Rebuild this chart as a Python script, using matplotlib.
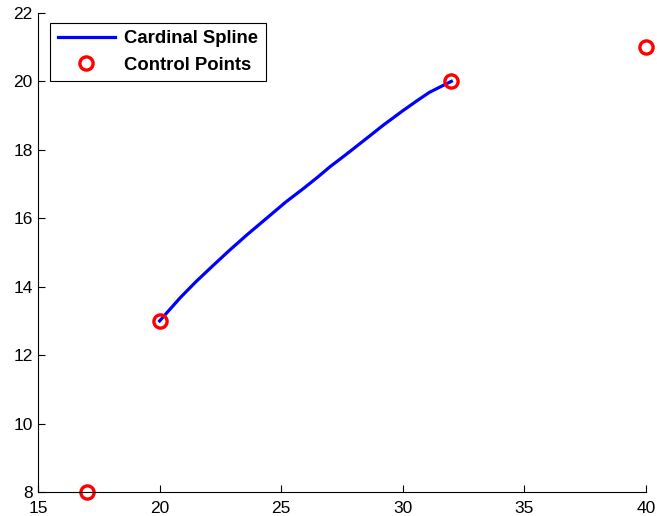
import matplotlib
matplotlib.use("Agg")
import matplotlib.pyplot as plt

plt.rcParams['font.family'] = ['Liberation Sans', 'DejaVu Sans']

# control points of the spline
ctrl_x = [17, 20, 32, 40]
ctrl_y = [8, 13, 20, 21]

# sampled spline between the two middle control points
spline_x = [20, 20.85, 21.5, 22.2, 22.9, 23.6, 24.5, 25.2, 25.9, 26.5,
            27.0, 27.7, 28.4, 29.2, 30.0, 30.6, 31.1, 32]
spline_y = [13, 13.68, 14.15, 14.62, 15.08, 15.52, 16.06, 16.48, 16.86, 17.2,
            17.5, 17.88, 18.27, 18.72, 19.14, 19.44, 19.68, 20]

xticks = [15, 20, 25, 30, 35, 40]
yticks = [8, 10, 12, 14, 16, 18, 20, 22]

fig = plt.figure(figsize=(6.57, 5.16), dpi=100)
ax = fig.add_axes([0.058, 0.0465, 0.925, 0.9285])

ax.plot(spline_x, spline_y, color='#0000ff', lw=2.3, label='Cardinal Spline',
        solid_joinstyle='round')
ax.plot(ctrl_x, ctrl_y, 'o', ls='none', mfc='none', mec='#ff0000',
        ms=9.5, mew=2.4, label='Control Points', clip_on=False)

ax.set_xlim(15, 40)
ax.set_ylim(8, 22)
ax.set_xticks(xticks)
ax.set_yticks(yticks)
ax.spines['top'].set_visible(False)
ax.spines['right'].set_visible(False)
for s in ('left', 'bottom'):
    ax.spines[s].set_linewidth(0.8)
ax.tick_params(direction='in', length=5, width=0.8, labelsize=12.5)
ax.tick_params(axis='x', pad=6.5)
ax.tick_params(axis='y', pad=4)

leg = ax.legend(loc='upper left', bbox_to_anchor=(0.02, 0.979), fancybox=False,
                edgecolor='black', framealpha=1, borderaxespad=0,
                prop={'weight': 'bold', 'size': 13.3}, handlelength=3.1,
                handletextpad=0.5, borderpad=0.4, labelspacing=0.5)
leg.get_frame().set_linewidth(0.8)

fig.savefig('out.png', dpi=100)
